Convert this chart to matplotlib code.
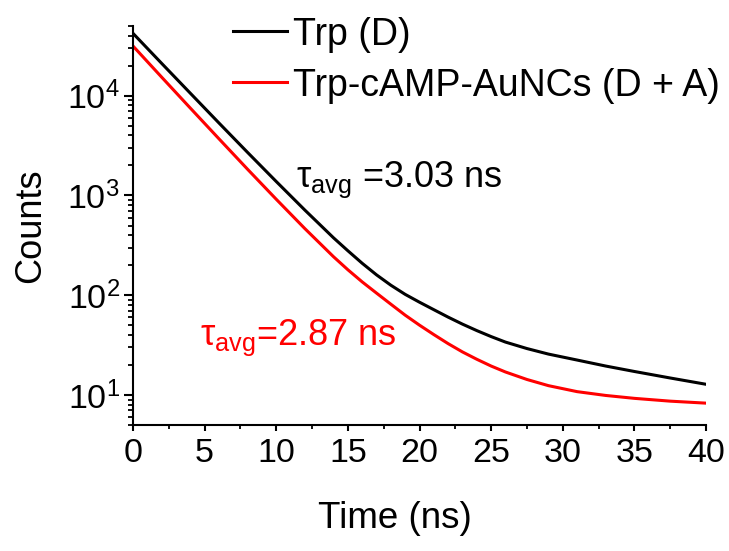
import numpy as np
import matplotlib
matplotlib.use('Agg')
from matplotlib import pyplot as plt
from matplotlib.ticker import LogLocator, MultipleLocator, NullFormatter

plt.rcParams['font.family'] = ['Liberation Sans', 'DejaVu Sans']
plt.rcParams['mathtext.fontset'] = 'custom'
plt.rcParams['mathtext.rm'] = 'Liberation Sans'
plt.rcParams['mathtext.it'] = 'Liberation Sans:italic'
plt.rcParams['mathtext.default'] = 'regular'

# decay curves (ns, counts)
time = [0, 2, 4, 6, 8, 10, 12, 14, 15, 16, 17, 18, 19, 20, 21, 22, 23, 24,
        25, 26, 27.5, 29, 31, 33, 35, 37.5, 40]
trp_counts = [42200, 21100, 10600, 5330, 2700, 1380, 713, 376, 279, 209, 160,
              126, 102, 85.1, 71.6, 60.3, 51.3, 44.2, 38.5, 33.9, 29.2, 25.7,
              22.4, 19.5, 17.2, 14.8, 12.8]
trp_aunc_counts = [31500, 15350, 7520, 3700, 1830, 916, 465, 243, 180, 136, 105,
                   81.3, 63.1, 50.1, 40.3, 32.7, 27.0, 22.8, 19.5, 17.0, 14.3,
                   12.4, 10.8, 9.89, 9.25, 8.67, 8.28]

labels = ['Trp (D)', 'Trp-cAMP-AuNCs (D + A)']
tau_labels = [r'$\tau_{avg}$ =3.03 ns', r'$\tau_{avg}$=2.87 ns']

fig = plt.figure(figsize=(7.29, 5.51), dpi=100)
ax = fig.add_axes([133 / 729, 1 - 425 / 551, 573 / 729, 399 / 551])

ax.plot(time, trp_counts, color='black', linewidth=2.2, label=labels[0])
ax.plot(time, trp_aunc_counts, color='#ff0000', linewidth=2.2, label=labels[1])

ax.set_yscale('log')
ax.set_xlim(0, 40)
ax.set_ylim(5, 5e4)

ax.spines['top'].set_visible(False)
ax.spines['right'].set_visible(False)
ax.spines['left'].set_linewidth(1.5)
ax.spines['bottom'].set_linewidth(1.5)

ax.xaxis.set_major_locator(MultipleLocator(5))
ax.xaxis.set_minor_locator(MultipleLocator(2.5))
ax.yaxis.set_major_locator(LogLocator(base=10, numticks=10))
ax.yaxis.set_minor_locator(LogLocator(base=10, subs=np.arange(2, 10), numticks=10))
ax.yaxis.set_minor_formatter(NullFormatter())

ax.tick_params(axis='x', which='major', direction='out', length=4.5, width=1.5, labelsize=24.5, pad=5)
ax.tick_params(axis='x', which='minor', direction='out', length=2.7, width=1.3)
ax.tick_params(axis='y', which='major', direction='out', length=6.5, width=1.5, labelsize=24.5, pad=3)
ax.tick_params(axis='y', which='minor', direction='out', length=3.5, width=1.3)

ax.set_xlabel('Time (ns)', fontsize=26.5)
ax.xaxis.set_label_coords(0.457, -0.19)
ax.set_ylabel('Counts', fontsize=26, labelpad=14)

ax.legend(loc='upper left', bbox_to_anchor=(233 / 729, 0.97), bbox_transform=fig.transFigure,
          frameon=False, fontsize=27, handlelength=1.45, handletextpad=0.15,
          labelspacing=0.4, borderpad=0, borderaxespad=0)

ax.text(0.2845, 0.596, tau_labels[0], transform=ax.transAxes, fontsize=26,
        color='black', va='baseline', ha='left')
ax.text(0.117, 0.2, tau_labels[1], transform=ax.transAxes, fontsize=26,
        color='#ff0000', va='baseline', ha='left')

plt.savefig('out.png', dpi=100)
